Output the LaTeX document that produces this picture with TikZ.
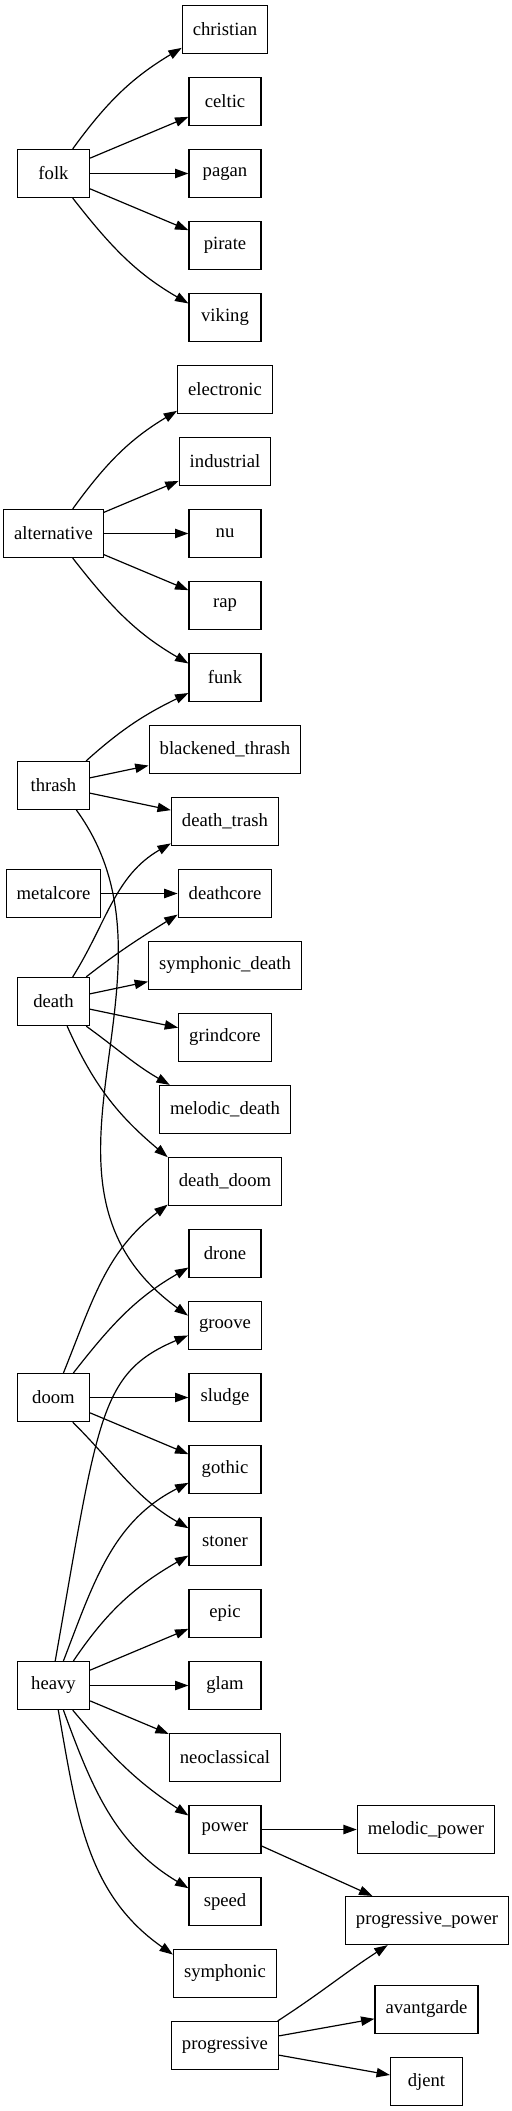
\documentclass[tikz,border=0pt]{standalone}
\usepackage{fontspec}
\setmainfont{Liberation Serif}
\usetikzlibrary{arrows.meta}

\begin{document}
\begin{tikzpicture}[x=0.75pt,y=0.75pt,
		genre/.style={draw,line width=0.9pt,minimum width=54pt,minimum height=36pt,inner xsep=7.92pt,inner ysep=3.96pt,font=\fontsize{14}{16}\selectfont},
		arr/.style={line width=0.9pt,-{Triangle[length=10pt,width=7pt]}}]
		\useasboundingbox (0,0.5) rectangle (511,-2110.5);
		\node[genre] (folk) at (53.5,-173) {folk};
		\node[genre] (christian) at (225,-29) {christian};
		\node[genre] (celtic) at (225,-101) {celtic};
		\node[genre] (pagan) at (225,-173) {pagan};
		\node[genre] (pirate) at (225,-245) {pirate};
		\node[genre] (viking) at (225,-317) {viking};
		\node[genre] (alternative) at (53.5,-533) {alternative};
		\node[genre] (electronic) at (225,-389) {electronic};
		\node[genre] (industrial) at (225,-461) {industrial};
		\node[genre] (nu) at (225,-533) {nu};
		\node[genre] (rap) at (225,-605) {rap};
		\node[genre] (funk) at (225,-677) {funk};
		\node[genre] (thrash) at (53.5,-785) {thrash};
		\node[genre] (blackened_thrash) at (225,-749) {blackened\_thrash};
		\node[genre] (death_trash) at (225,-821) {death\_trash};
		\node[genre] (metalcore) at (53.5,-893) {metalcore};
		\node[genre] (deathcore) at (225,-893) {deathcore};
		\node[genre] (symphonic_death) at (225,-965) {symphonic\_death};
		\node[genre] (death) at (53.5,-1001) {death};
		\node[genre] (grindcore) at (225,-1037) {grindcore};
		\node[genre] (melodic_death) at (225,-1109) {melodic\_death};
		\node[genre] (death_doom) at (225,-1181) {death\_doom};
		\node[genre] (drone) at (225,-1253) {drone};
		\node[genre] (groove) at (225,-1325) {groove};
		\node[genre] (doom) at (53.5,-1397) {doom};
		\node[genre] (sludge) at (225,-1397) {sludge};
		\node[genre] (gothic) at (225,-1469) {gothic};
		\node[genre] (stoner) at (225,-1541) {stoner};
		\node[genre] (epic) at (225,-1613) {epic};
		\node[genre] (heavy) at (53.5,-1685) {heavy};
		\node[genre] (glam) at (225,-1685) {glam};
		\node[genre] (neoclassical) at (225,-1757) {neoclassical};
		\node[genre] (power) at (225,-1829) {power};
		\node[genre] (melodic_power) at (426,-1829) {melodic\_power};
		\node[genre] (speed) at (225,-1901) {speed};
		\node[genre] (progressive_power) at (427,-1920) {progressive\_power};
		\node[genre] (symphonic) at (225,-1973) {symphonic};
		\node[genre] (avantgarde) at (426.5,-2009) {avantgarde};
		\node[genre] (progressive) at (225,-2045) {progressive};
		\node[genre] (djent) at (426.5,-2081) {djent};

		\draw[arr] (folk.52) to[out=54,in=211] (christian.203);
		\draw[arr] (folk) -- (celtic);
		\draw[arr] (folk) -- (pagan);
		\draw[arr] (folk) -- (pirate);
		\draw[arr] (folk.-52) to[out=-52,in=150] (viking.159);

		\draw[arr] (alternative.52) to[out=54,in=211] (electronic.204);
		\draw[arr] (alternative) -- (industrial);
		\draw[arr] (alternative) -- (nu);
		\draw[arr] (alternative) -- (rap);
		\draw[arr] (alternative.-52) to[out=-52,in=150] (funk.159);

		\draw[arr] (thrash.37) to[out=42,in=206] (funk.203);
		\draw[arr] (thrash) -- (blackened_thrash);
		\draw[arr] (thrash) -- (death_trash);
		\draw[arr] (thrash.-47) to[out=-54,in=144,in looseness=1.12] (groove.165);

		\draw[arr] (metalcore) -- (deathcore);

		\draw[arr] (death.52) to[out=58,in=210] (death_trash.202);
		\draw[arr] (death.37) to[out=38,in=212] (deathcore.204);
		\draw[arr] (death) -- (symphonic_death);
		\draw[arr] (death) -- (grindcore);
		\draw[arr] (death.-37) to[out=-36,in=150] (melodic_death.156);
		\draw[arr] (death.-61) to[out=-66,in=140] (death_doom.157);

		\draw[arr] (doom.68) to[out=68,in=217] (death_doom.202);
		\draw[arr] (doom.51) to[out=52,in=210] (drone.201);
		\draw[arr] (doom) -- (sludge);
		\draw[arr] (doom) -- (gothic);
		\draw[arr] (doom.-52) to[out=-45,in=150] (stoner.160);

		\draw[arr] (heavy.86) to[out=80,in=203,out looseness=1.8,in looseness=0.7] (groove.195);
		\draw[arr] (heavy.68) to[out=69,in=207] (gothic.200);
		\draw[arr] (heavy.51) to[out=56,in=210] (stoner.201);
		\draw[arr] (heavy) -- (epic);
		\draw[arr] (heavy) -- (glam);
		\draw[arr] (heavy) -- (neoclassical);
		\draw[arr] (heavy.-52) to[out=-50,in=147] (power.159);
		\draw[arr] (heavy.-68) to[out=-70,in=149] (speed.160);
		\draw[arr] (heavy.-79) to[out=-80,in=145] (symphonic.160);

		\draw[arr] (power) -- (melodic_power);
		\draw[arr] (power) -- (progressive_power);

		\draw[arr] (progressive.25) to[out=33,in=213] (progressive_power.212);
		\draw[arr] (progressive) -- (avantgarde);
		\draw[arr] (progressive) -- (djent);
	\end{tikzpicture}
\end{document}
